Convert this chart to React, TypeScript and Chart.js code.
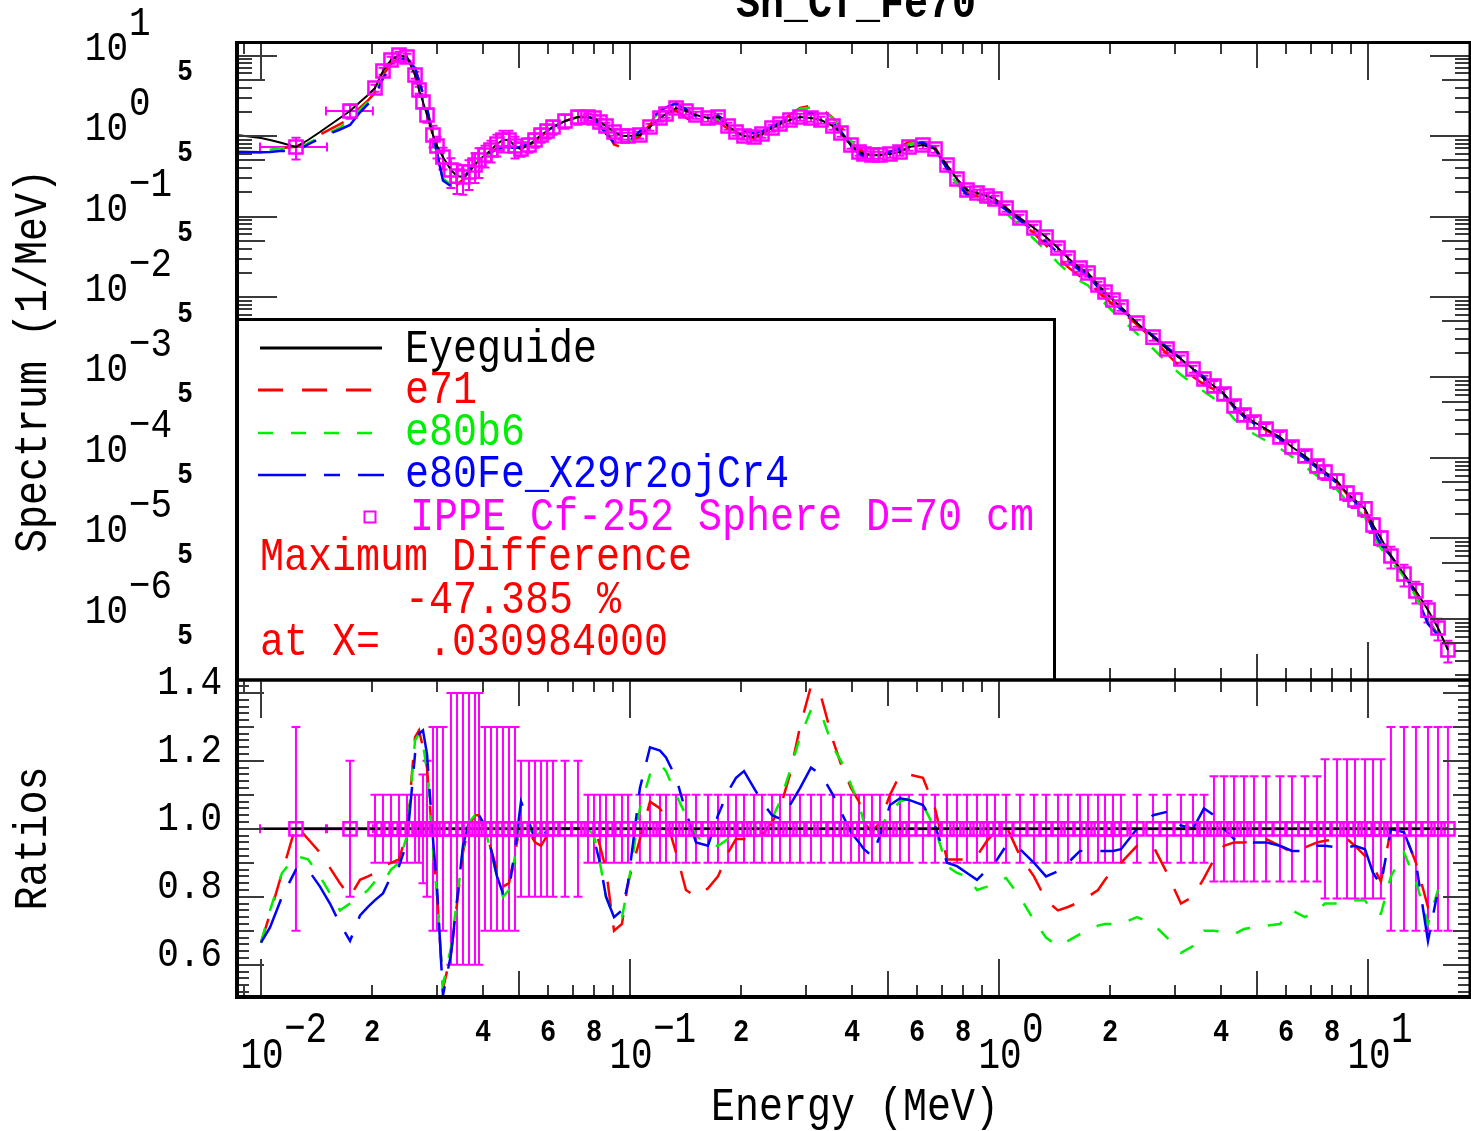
import React, { useEffect, useRef } from "react";
import { Chart, registerables } from "chart.js";

Chart.register(...registerables);

// ---------------- data ----------------
// Energy grid (MeV) of the eyeguide / calculated curves
const gridE = [
  0.00861, 0.0100, 0.01058, 0.0114, 0.01244, 0.01341, 0.01445, 0.01538, 0.01637, 0.01743,
  0.01855, 0.0195, 0.02037, 0.02141, 0.02251, 0.02366, 0.02487, 0.02615, 0.02681, 0.02748,
  0.02818, 0.02925, 0.02999, 0.03113, 0.03272, 0.03398, 0.03527, 0.03662, 0.03802, 0.03898,
  0.04046, 0.04201, 0.04361, 0.04527, 0.0470, 0.0488, 0.05066, 0.05326, 0.05529, 0.0574,
  0.0596, 0.06185, 0.06666, 0.07229, 0.07694, 0.07988, 0.08293, 0.0861, 0.09052, 0.09513,
  0.09876, 0.1064, 0.1133, 0.1206, 0.1252, 0.1333, 0.1418, 0.151, 0.1627, 0.1732,
  0.1844, 0.1938, 0.2037, 0.2168, 0.2279, 0.2426, 0.255, 0.2714, 0.2889, 0.3094,
  0.3294, 0.3549, 0.3731, 0.3971, 0.4175, 0.4307, 0.4527, 0.4759, 0.5066, 0.5392,
  0.5703, 0.6223, 0.6709, 0.723, 0.7694, 0.8189, 0.8717, 0.9279, 0.9754, 1.045,
  1.14, 1.244, 1.341, 1.445, 1.538, 1.658, 1.743, 1.855, 1.938, 2.037,
  2.141, 2.366, 2.615, 2.853, 3.113, 3.356, 3.594, 3.825, 4.072, 4.335,
  4.613, 4.911, 5.293, 5.775, 6.223, 6.75, 7.276, 7.648, 8.241, 8.772,
  9.222, 9.815, 10.32, 10.84, 11.54, 12.52, 13.49, 14.54, 15.48, 16.47,
];

// Eyeguide spectrum (1/MeV) on gridE
const eyeguideVal = [
  1.03, 0.944, 0.892, 0.818, 0.730, 0.892, 1.121, 1.37, 1.673, 2.045,
  2.645, 3.23, 3.95, 6.42, 8.79, 10.1, 9.58, 5.73, 3.73, 2.645,
  1.824, 1.029, 0.751, 0.548, 0.378, 0.318, 0.310, 0.357, 0.436, 0.503,
  0.581, 0.670, 0.796, 0.892, 0.892, 0.751, 0.689, 0.773, 0.892, 1.029,
  1.154, 1.294, 1.536, 1.722, 1.722, 1.673, 1.492, 1.331, 1.121, 1.000,
  1.000, 1.029, 1.294, 1.673, 1.876, 2.227, 2.045, 1.824, 1.673, 1.722,
  1.331, 1.121, 1.000, 0.972, 1.059, 1.257, 1.410, 1.580, 1.722, 1.673,
  1.580, 1.331, 1.090, 0.773, 0.633, 0.598, 0.581, 0.581, 0.598, 0.633,
  0.730, 0.773, 0.689, 0.436, 0.292, 0.2134, 0.1958, 0.1798, 0.1650, 0.1275,
  0.0958, 0.0720, 0.0556, 0.0406, 0.0305, 0.0229, 0.01987, 0.0141, 0.01154, 0.00918,
  0.00751, 0.00475, 0.00318, 0.00226, 0.0017, 0.001275, 0.000958, 0.000784, 0.000624, 0.000443,
  0.000342, 0.00028, 0.000229, 0.0001823, 0.0001369, 0.0001059, 0.0000795, 0.000067, 0.0000518, 0.0000367,
  0.0000301, 0.0000233, 0.0000147, 0.0000101, 0.00000606, 0.00000362, 0.00000223, 0.00000129, 7.73e-7, 4.12e-7,
];

// Calculation / eyeguide ratios on gridE (first 129 grid points)
const ratioE71 = [
  0.615, 0.665, 0.75, 0.87, 1.01, 0.97, 0.93, 0.885, 0.84, 0.80, 0.85, 0.86,
  0.87, 0.89, 0.90, 0.91, 0.99, 1.27, 1.29, 1.24, 1.18,
  0.95, 0.81, 0.53, 0.63, 0.78, 0.93, 1.01, 1.04, 1.04, 1.00,
  0.94, 0.88, 0.83, 0.84, 0.93, 1.02, 0.99, 0.96, 0.95, 0.98,
  0.99, 1.00, 1.00, 1.00, 1.01, 0.95, 0.88, 0.70, 0.72, 0.84,
  0.97, 1.08, 1.06, 1.03, 0.93, 0.82, 0.80, 0.825, 0.86, 0.93,
  0.97, 0.97, 0.96, 0.98, 1.02, 1.06, 1.16, 1.30, 1.42, 1.39,
  1.26, 1.19, 1.12, 1.08, 1.02, 0.99, 1.02, 1.10, 1.16, 1.16,
  1.15, 1.06, 0.91, 0.91, 0.91, 0.92, 0.965, 0.99, 1.01, 0.92,
  0.86, 0.79, 0.76, 0.77, 0.785, 0.80, 0.82, 0.85, 0.88, 0.90,
  0.95, 0.95, 0.87, 0.78, 0.80, 0.855, 0.91, 0.95, 0.96, 0.96,
  0.965, 0.97, 0.95, 0.93, 0.945, 0.96, 0.965, 0.97, 0.97, 0.95,
  0.92, 0.89, 0.845, 1.00, 0.99, 0.90, 0.77, 0.82,
];
const ratioE80b6 = [
  0.615, 0.665, 0.76, 0.87, 0.92, 0.91, 0.86, 0.81, 0.76, 0.78, 0.80, 0.82,
  0.845, 0.84, 0.88, 0.90, 0.98, 1.26, 1.28, 1.25, 1.17,
  0.94, 0.80, 0.54, 0.65, 0.79, 0.94, 1.02, 1.04, 1.04, 1.00,
  0.93, 0.86, 0.80, 0.82, 0.92, 1.03, 1.00, 0.98, 0.99, 1.00,
  1.00, 1.00, 1.00, 1.00, 0.98, 0.90, 0.80, 0.74, 0.74, 0.83,
  1.06, 1.16, 1.19, 1.17, 1.10, 1.04, 0.98, 0.95, 0.95, 0.97,
  0.99, 1.00, 1.00, 1.01, 1.03, 1.08, 1.17, 1.27, 1.35, 1.34,
  1.24, 1.20, 1.13, 1.07, 1.02, 0.98, 1.00, 1.05, 1.08, 1.09,
  1.07, 1.00, 0.89, 0.87, 0.86, 0.82, 0.83, 0.84, 0.855, 0.80,
  0.73, 0.68, 0.655, 0.67, 0.69, 0.70, 0.715, 0.72, 0.72, 0.72,
  0.74, 0.72, 0.68, 0.635, 0.655, 0.70, 0.70, 0.695, 0.69, 0.705,
  0.71, 0.715, 0.72, 0.76, 0.74, 0.76, 0.78, 0.78, 0.79, 0.79,
  0.79, 0.75, 0.75, 0.86, 0.93, 0.845, 0.72, 0.82,
];
const ratioE80Fe = [
  0.615, 0.665, 0.71, 0.80, 0.88, 0.88, 0.83, 0.78, 0.72, 0.67, 0.745, 0.77,
  0.79, 0.81, 0.86, 0.89, 0.96, 1.22, 1.28, 1.29, 1.22,
  0.97, 0.83, 0.51, 0.63, 0.79, 0.95, 1.02, 1.05, 1.04, 1.01,
  0.94, 0.86, 0.81, 0.82, 0.94, 1.08, 1.02, 0.97, 0.96, 1.00,
  1.00, 1.00, 1.00, 1.00, 0.97, 0.90, 0.80, 0.74, 0.76, 0.84,
  1.12, 1.24, 1.23, 1.21, 1.15, 1.05, 0.96, 0.95, 1.04, 1.11,
  1.15, 1.17, 1.12, 1.08, 1.04, 1.03, 1.07, 1.12, 1.18, 1.16,
  1.10, 1.05, 0.99, 0.96, 0.94, 0.92, 0.98, 1.07, 1.09, 1.085,
  1.07, 1.01, 0.90, 0.89, 0.87, 0.85, 0.88, 0.90, 0.95, 0.94,
  0.90, 0.86, 0.875, 0.90, 0.935, 0.935, 0.935, 0.935, 0.935, 0.94,
  1.00, 1.04, 1.05, 1.01, 1.00, 1.06, 1.04, 1.00, 0.97, 0.96,
  0.96, 0.96, 0.95, 0.935, 0.935, 0.95, 0.95, 0.945, 0.945, 0.95,
  0.94, 0.87, 0.835, 1.00, 0.99, 0.90, 0.67, 0.82,
];

// IPPE experiment
const expE = [
  0.01244, 0.01743, 0.02037, 0.02141, 0.02251, 0.02366, 0.02487, 0.02615, 0.02681, 0.02748,
  0.02818, 0.02925, 0.02999, 0.03113, 0.03272, 0.03398, 0.03527, 0.03662, 0.03802, 0.03898,
  0.04046, 0.04201, 0.04361, 0.04527, 0.0470, 0.0488, 0.05066, 0.05326, 0.05529, 0.0574,
  0.0596, 0.06185, 0.06666, 0.07229, 0.07694, 0.07988, 0.08293, 0.0861, 0.09052, 0.09513,
  0.09876, 0.1064, 0.1133, 0.1206, 0.1252, 0.1333, 0.1418, 0.151, 0.1627, 0.1732,
  0.1844, 0.1938, 0.2037, 0.2168, 0.2279, 0.2426, 0.255, 0.2714, 0.2889, 0.3094,
  0.3294, 0.3549, 0.3731, 0.3971, 0.4175, 0.4307, 0.4527, 0.4759, 0.5066, 0.5392,
  0.5703, 0.6223, 0.6709, 0.723, 0.7694, 0.8189, 0.8717, 0.9279, 0.9754, 1.045,
  1.14, 1.244, 1.341, 1.445, 1.538, 1.658, 1.743, 1.855, 1.938, 2.037,
  2.141, 2.366, 2.615, 2.853, 3.113, 3.356, 3.594, 3.825, 4.072, 4.335,
  4.613, 4.911, 5.293, 5.775, 6.223, 6.75, 7.276, 7.648, 8.241, 8.772,
  9.222, 9.815, 10.32, 10.84, 11.54, 12.52, 13.49, 14.54, 15.48, 16.47,
];
const expVal = [
  0.730, 2.045, 3.95, 6.42, 8.79, 10.1, 9.58, 5.73, 3.73, 2.645,
  1.824, 1.029, 0.751, 0.548, 0.378, 0.318, 0.310, 0.357, 0.436, 0.503,
  0.581, 0.670, 0.796, 0.892, 0.892, 0.751, 0.689, 0.773, 0.892, 1.029,
  1.154, 1.294, 1.536, 1.722, 1.722, 1.673, 1.492, 1.331, 1.121, 1.000,
  1.000, 1.029, 1.294, 1.673, 1.876, 2.227, 2.045, 1.824, 1.673, 1.722,
  1.331, 1.121, 1.000, 0.972, 1.059, 1.257, 1.410, 1.580, 1.722, 1.673,
  1.580, 1.331, 1.090, 0.773, 0.633, 0.598, 0.581, 0.581, 0.598, 0.633,
  0.730, 0.773, 0.689, 0.436, 0.292, 0.2134, 0.1958, 0.1798, 0.1650, 0.1275,
  0.0958, 0.0720, 0.0556, 0.0406, 0.0305, 0.0229, 0.01987, 0.0141, 0.01154, 0.00918,
  0.00751, 0.00475, 0.00318, 0.00226, 0.0017, 0.001275, 0.000958, 0.000784, 0.000624, 0.000443,
  0.000342, 0.00028, 0.000229, 0.0001823, 0.0001369, 0.0001059, 0.0000795, 0.000067, 0.0000518, 0.0000367,
  0.0000301, 0.0000233, 0.0000147, 0.0000101, 0.00000606, 0.00000362, 0.00000223, 0.00000129, 7.73e-7, 4.12e-7,
];
// relative uncertainty of each IPPE point
const expErr = [
  0.30, 0.20, 0.10, 0.10, 0.10, 0.10, 0.10, 0.10, 0.10, 0.16,
  0.20, 0.30, 0.30, 0.30, 0.40, 0.40, 0.40, 0.40, 0.40, 0.40,
  0.30, 0.30, 0.30, 0.30, 0.30, 0.30, 0.20, 0.20, 0.20, 0.20,
  0.20, 0.20, 0.20, 0.20, 0.10, 0.10, 0.10, 0.10, 0.10, 0.10,
  0.10, 0.10, 0.10, 0.10, 0.10, 0.10, 0.10, 0.10, 0.10, 0.10,
  0.10, 0.10, 0.10, 0.10, 0.10, 0.10, 0.10, 0.10, 0.10, 0.10,
  0.10, 0.10, 0.10, 0.10, 0.10, 0.10, 0.10, 0.10, 0.10, 0.10,
  0.10, 0.10, 0.10, 0.10, 0.10, 0.10, 0.10, 0.10, 0.10, 0.10,
  0.10, 0.10, 0.10, 0.10, 0.10, 0.10, 0.10, 0.10, 0.10, 0.10,
  0.10, 0.10, 0.10, 0.10, 0.10, 0.10, 0.10, 0.155, 0.155, 0.155,
  0.155, 0.155, 0.155, 0.155, 0.155, 0.155, 0.155, 0.205, 0.205, 0.205,
  0.205, 0.205, 0.205, 0.205, 0.30, 0.30, 0.30, 0.30, 0.30, 0.30,
];
// energy bins shown for the first two points
const expBinLo = [0.00994, 0.0150];
const expBinHi = [0.0151, 0.0201];
// reference lines in the ratio panel
const eyeguideRatioE = [0.01, 16.47];
const eyeguideRatioVal = [1, 1];
const IPPE_RATIO = 1;

// texts
const titleText = "Sn_Cf_Fe70";
const xTitle = "Energy (MeV)";
const yTitleUpper = "Spectrum (1/MeV)";
const yTitleLower = "Ratios";
const seriesNames = ["Eyeguide", "e71", "e80b6", "e80Fe_X29r2ojCr4", "IPPE Cf-252 Sphere D=70 cm"];
const maxDiffLines = ["Maximum Difference", "-47.385 %", "at X=  .030984000"];

// tick labels
const xDecadeExps = [-2, -1, 0, 1];
const xMinorLabels = [2, 4, 6, 8];
const xMinorLabelDecades = [-2, -1, 0];
const yDecadeExps = [1, 0, -1, -2, -3, -4, -5, -6];
const yFiveExps = [0, -1, -2, -3, -4, -5, -6, -7];
const ratioTickLabels = [1.4, 1.2, 1.0, 0.8, 0.6];

// ---------------- layout / style ----------------
const W = 1471;
const H = 1131;
const PL = 237;
const PR = 1470;
const UP_TOP = 42;
const MID = 680;
const LOW_BOT = 997;
const X_MIN = 0.00861;
const X_MAX = 18.9;
const SPEC_MIN = 1.746e-7;
const SPEC_MAX = 14.72;
const R_MIN = 0.505;
const R_MAX = 1.438;

const MONO = '"Liberation Mono", "Courier New", monospace';
const RED = "#ff0000";
const GREEN = "#00ee00";
const BLUE = "#0000ff";
const MAGENTA = "#ff00ff";
const TICK = "#3a3a3a";
const SY = 1.15;

const DASH_RED = [25, 19];
const DASH_GREEN = [15, 18];
const DASH_BLUE = [48, 18, 16, 18];

function txt(ctx: any, s: string, x: number, y: number, o: any) {
  ctx.save();
  ctx.translate(x, y);
  if (o.rot) ctx.rotate(o.rot);
  ctx.scale(1, o.sy ?? SY);
  ctx.font = `${o.bold ? "bold " : ""}${o.size}px ${MONO}`;
  ctx.fillStyle = o.color ?? "#000";
  ctx.textAlign = o.align ?? "left";
  ctx.textBaseline = o.base ?? "alphabetic";
  ctx.fillText(s, 0, 0);
  ctx.restore();
}

function expLabel(n: number) {
  return n < 0 ? "\u2212" + Math.abs(n) : String(n);
}

function xTickList() {
  const out: { v: number; len: number }[] = [];
  for (let n = -3; n <= 1; n++)
    for (let k = 1; k <= 9; k++) {
      const v = k * Math.pow(10, n);
      if (v >= X_MIN && v <= X_MAX) out.push({ v, len: k === 1 ? 38 : k === 5 ? 26 : 12 });
    }
  return out;
}

function drawXTicks(ctx: any, xs: any, yTop: number, yBot: number) {
  ctx.save();
  ctx.strokeStyle = TICK;
  ctx.lineWidth = 2;
  ctx.beginPath();
  for (const t of xTickList()) {
    const x = Math.round(xs.getPixelForValue(t.v));
    ctx.moveTo(x, yTop);
    ctx.lineTo(x, yTop + t.len);
    ctx.moveTo(x, yBot);
    ctx.lineTo(x, yBot - t.len);
  }
  ctx.stroke();
  ctx.restore();
}

function drawYTicks(ctx: any, ys: any, ticks: { v: number; len: number }[], top: number, bot: number) {
  ctx.save();
  ctx.strokeStyle = TICK;
  ctx.lineWidth = 2;
  ctx.beginPath();
  for (const t of ticks) {
    const y = Math.round(ys.getPixelForValue(t.v));
    if (y < top + 1 || y > bot - 1) continue;
    ctx.moveTo(PL, y);
    ctx.lineTo(PL + t.len, y);
    ctx.moveTo(PR, y);
    ctx.lineTo(PR - t.len, y);
  }
  ctx.stroke();
  ctx.restore();
}

function seg(ctx: any, x1: number, y1: number, x2: number, y2: number, w: number, c = "#000") {
  ctx.save();
  ctx.strokeStyle = c;
  ctx.lineWidth = w;
  ctx.beginPath();
  ctx.moveTo(x1, y1);
  ctx.lineTo(x2, y2);
  ctx.stroke();
  ctx.restore();
}

function drawErrorBars(chart: any, upper: boolean) {
  const { ctx, chartArea: a } = chart;
  const xs = chart.scales.x;
  const ys = chart.scales.y;
  const CAP = 4.5;
  ctx.save();
  ctx.beginPath();
  ctx.rect(a.left, a.top, a.right - a.left, a.bottom - a.top);
  ctx.clip();
  ctx.strokeStyle = MAGENTA;
  ctx.lineWidth = 2;
  ctx.beginPath();
  for (let i = 0; i < expE.length; i++) {
    const x = xs.getPixelForValue(expE[i]);
    const c = upper ? expVal[i] : IPPE_RATIO;
    const y1 = ys.getPixelForValue(c * (1 + expErr[i]));
    const y2 = ys.getPixelForValue(c * (1 - expErr[i]));
    ctx.moveTo(x, y1);
    ctx.lineTo(x, y2);
    ctx.moveTo(x - CAP, y1);
    ctx.lineTo(x + CAP, y1);
    ctx.moveTo(x - CAP, y2);
    ctx.lineTo(x + CAP, y2);
  }
  for (let i = 0; i < expBinLo.length; i++) {
    const y = ys.getPixelForValue(upper ? expVal[i] : IPPE_RATIO);
    const xa = xs.getPixelForValue(expBinLo[i]);
    const xb = xs.getPixelForValue(expBinHi[i]);
    ctx.moveTo(xa, y);
    ctx.lineTo(xb, y);
    ctx.moveTo(xa, y - CAP);
    ctx.lineTo(xa, y + CAP);
    ctx.moveTo(xb, y - CAP);
    ctx.lineTo(xb, y + CAP);
  }
  ctx.stroke();
  ctx.restore();
}

const upperDeco = {
  id: "upperDeco",
  beforeDatasetsDraw(chart: any) {
    drawErrorBars(chart, true);
  },
  afterDraw(chart: any) {
    const ctx = chart.ctx;
    const xs = chart.scales.x;
    const ys = chart.scales.y;
    drawXTicks(ctx, xs, UP_TOP, MID);
    const yt: { v: number; len: number }[] = [];
    for (let n = -7; n <= 1; n++)
      for (let k = 1; k <= 9; k++) {
        const v = k * Math.pow(10, n);
        if (v >= SPEC_MIN && v <= SPEC_MAX) yt.push({ v, len: k === 1 ? 40 : k === 5 ? 28 : 15 });
      }
    drawYTicks(ctx, ys, yt, UP_TOP, MID);

    // legend box
    ctx.save();
    ctx.fillStyle = "#fff";
    ctx.fillRect(PL, 319, 1055 - PL, MID - 319);
    ctx.restore();
    seg(ctx, PL, 319.5, 1056, 319.5, 3);
    seg(ctx, 1054.5, 318, 1054.5, MID, 3);

    seg(ctx, 260, 348, 382, 348, 3, "#000");
    ctx.save();
    ctx.setLineDash(DASH_RED);
    seg(ctx, 258, 390, 372, 390, 3, RED);
    ctx.setLineDash(DASH_GREEN);
    seg(ctx, 258, 433, 372, 433, 2.5, GREEN);
    ctx.setLineDash(DASH_BLUE);
    seg(ctx, 258, 475, 384, 475, 2.5, BLUE);
    ctx.restore();
    ctx.save();
    ctx.strokeStyle = MAGENTA;
    ctx.lineWidth = 2;
    ctx.strokeRect(364.5, 511.5, 11, 11);
    ctx.restore();

    txt(ctx, seriesNames[0], 405, 362, { size: 40, color: "#000" });
    txt(ctx, seriesNames[1], 405, 403, { size: 40, color: RED });
    txt(ctx, seriesNames[2], 405, 445, { size: 40, color: GREEN });
    txt(ctx, seriesNames[3], 405, 487, { size: 40, color: BLUE });
    txt(ctx, seriesNames[4], 410, 530, { size: 40, color: MAGENTA });
    txt(ctx, maxDiffLines[0], 260, 570, { size: 40, color: RED });
    txt(ctx, maxDiffLines[1], 405, 613, { size: 40, color: RED });
    txt(ctx, maxDiffLines[2], 260, 655, { size: 40, color: RED });

    // frame
    seg(ctx, PL - 2, UP_TOP + 0.5, W, UP_TOP + 0.5, 3);
    seg(ctx, PL, UP_TOP - 1, PL, MID + 1, 4);
    seg(ctx, PR, UP_TOP, PR, MID, 3);
    seg(ctx, PL, MID, W, MID, 3);

    // y labels
    for (const n of yDecadeExps) {
      const y = ys.getPixelForValue(Math.pow(10, n));
      txt(ctx, "10", 128, y + 4, { size: 36, align: "right" });
      txt(ctx, expLabel(n), 129, y - 21, { size: 36 });
    }
    for (const n of yFiveExps) {
      const y = ys.getPixelForValue(5 * Math.pow(10, n));
      txt(ctx, "5", 185, y - 7, { size: 26, bold: true, align: "center", base: "middle" });
    }
    // titles
    txt(ctx, titleText, 856, 17, { size: 40, bold: true, align: "center" });
    txt(ctx, yTitleUpper, 46, (UP_TOP + MID) / 2, { size: 40, align: "center", rot: -Math.PI / 2 });
  },
};

const lowerDeco = {
  id: "lowerDeco",
  beforeDatasetsDraw(chart: any) {
    drawErrorBars(chart, false);
  },
  afterDraw(chart: any) {
    const ctx = chart.ctx;
    const xs = chart.scales.x;
    const ys = chart.scales.y;
    drawXTicks(ctx, xs, MID, LOW_BOT);
    const yt: { v: number; len: number }[] = [];
    for (let i = 26; i <= 71; i++) yt.push({ v: i / 50, len: i % 10 === 0 ? 27 : i % 5 === 0 ? 17 : 12 });
    drawYTicks(ctx, ys, yt, MID, LOW_BOT);

    seg(ctx, PL, MID, W, MID, 3);
    seg(ctx, PL, MID - 1, PL, LOW_BOT + 2, 4);
    seg(ctx, PR, MID, PR, LOW_BOT, 3);
    seg(ctx, PL - 2, LOW_BOT, W, LOW_BOT, 4);

    for (const v of ratioTickLabels) {
      const y = ys.getPixelForValue(v);
      txt(ctx, v.toFixed(1), 222, y - 10, { size: 36, align: "right", base: "middle" });
    }
    for (const n of xDecadeExps) {
      const x = xs.getPixelForValue(Math.pow(10, n));
      txt(ctx, "10", x + 1, 1068, { size: 36, align: "center", sy: 1.25 });
      txt(ctx, expLabel(n), x + 23, 1042, { size: 36, sy: 1.25 });
    }
    for (const n of xMinorLabelDecades)
      for (const k of xMinorLabels) {
        const x = xs.getPixelForValue(k * Math.pow(10, n));
        txt(ctx, String(k), x, 1033, { size: 27, bold: true, align: "center", base: "middle" });
      }
    txt(ctx, xTitle, 855, 1120, { size: 40, align: "center" });
    txt(ctx, yTitleLower, 46, (MID + LOW_BOT) / 2, { size: 40, align: "center", rot: -Math.PI / 2 });
  },
};

function pts(es: number[], vs: number[]) {
  return es.map((x, i) => ({ x, y: vs[i] }));
}
// calculated spectrum = eyeguide x (calculation / eyeguide ratio)
function modelSpectrum(ratio: number[]) {
  return ratio.map((r, i) => ({ x: gridE[i], y: eyeguideVal[i] * r }));
}
function ratioCurve(ratio: number[]) {
  return ratio.slice(1).map((r, i) => ({ x: gridE[i + 1], y: r }));
}

function baseOptions(top: number, bottom: number, yScale: any) {
  return {
    animation: false,
    responsive: false,
    maintainAspectRatio: false,
    devicePixelRatio: 1,
    events: [],
    layout: { autoPadding: false, padding: { left: PL, right: W - PR, top, bottom: H - bottom } },
    plugins: { legend: { display: false }, tooltip: { enabled: false }, title: { display: false } },
    elements: { line: { tension: 0, fill: false }, point: { radius: 0 } },
    scales: {
      x: { type: "logarithmic", min: X_MIN, max: X_MAX, display: false, bounds: "data" },
      y: { ...yScale, display: false, bounds: "data" },
    },
  };
}

const squareStyle = {
  showLine: false,
  pointStyle: "rect",
  pointRadius: 9.3,
  pointBorderWidth: 2.5,
  pointBorderColor: MAGENTA,
  pointBackgroundColor: "rgba(0,0,0,0)",
  borderColor: MAGENTA,
  backgroundColor: "rgba(0,0,0,0)",
};

function upperConfig(): any {
  return {
    type: "line",
    data: {
      datasets: [
        { label: seriesNames[4], data: pts(expE, expVal), ...squareStyle },
        { label: seriesNames[0], data: pts(gridE, eyeguideVal), borderColor: "#000", borderWidth: 2, pointRadius: 0 },
        { label: seriesNames[3], data: modelSpectrum(ratioE80Fe), borderColor: BLUE, borderWidth: 2.5, borderDash: DASH_BLUE, pointRadius: 0 },
        { label: seriesNames[2], data: modelSpectrum(ratioE80b6), borderColor: GREEN, borderWidth: 2.5, borderDash: DASH_GREEN, pointRadius: 0 },
        { label: seriesNames[1], data: modelSpectrum(ratioE71), borderColor: RED, borderWidth: 2.5, borderDash: DASH_RED, pointRadius: 0 },
      ],
    },
    options: baseOptions(UP_TOP, MID, { type: "logarithmic", min: SPEC_MIN, max: SPEC_MAX }),
    plugins: [upperDeco],
  };
}

function lowerConfig(): any {
  const ippeRatio = expE.map((x) => ({ x, y: IPPE_RATIO }));
  return {
    type: "line",
    data: {
      datasets: [
        { label: seriesNames[4], data: ippeRatio, ...squareStyle },
        { label: seriesNames[0], data: pts(eyeguideRatioE, eyeguideRatioVal), borderColor: "#000", borderWidth: 2.5, pointRadius: 0 },
        { label: seriesNames[3], data: ratioCurve(ratioE80Fe), borderColor: BLUE, borderWidth: 2.5, borderDash: DASH_BLUE, pointRadius: 0 },
        { label: seriesNames[2], data: ratioCurve(ratioE80b6), borderColor: GREEN, borderWidth: 2.5, borderDash: DASH_GREEN, pointRadius: 0 },
        { label: seriesNames[1], data: ratioCurve(ratioE71), borderColor: RED, borderWidth: 2.5, borderDash: DASH_RED, pointRadius: 0 },
        { label: seriesNames[4] + " line", data: ippeRatio, borderColor: MAGENTA, borderWidth: 3, pointRadius: 0 },
      ],
    },
    options: baseOptions(MID, LOW_BOT, { type: "linear", min: R_MIN, max: R_MAX }),
    plugins: [lowerDeco],
  };
}

export default function App() {
  const upRef = useRef<HTMLCanvasElement>(null);
  const lowRef = useRef<HTMLCanvasElement>(null);

  useEffect(() => {
    document.body.style.margin = "0";
    const c1 = new Chart(upRef.current as HTMLCanvasElement, upperConfig());
    const c2 = new Chart(lowRef.current as HTMLCanvasElement, lowerConfig());
    return () => {
      c1.destroy();
      c2.destroy();
    };
  }, []);

  const cs: React.CSSProperties = { position: "absolute", left: 0, top: 0, width: W, height: H };
  return (
    <div style={{ position: "absolute", left: 0, top: 0, width: W, height: H, background: "#fff", overflow: "hidden" }}>
      <canvas ref={upRef} width={W} height={H} style={cs} />
      <canvas ref={lowRef} width={W} height={H} style={cs} />
    </div>
  );
}
